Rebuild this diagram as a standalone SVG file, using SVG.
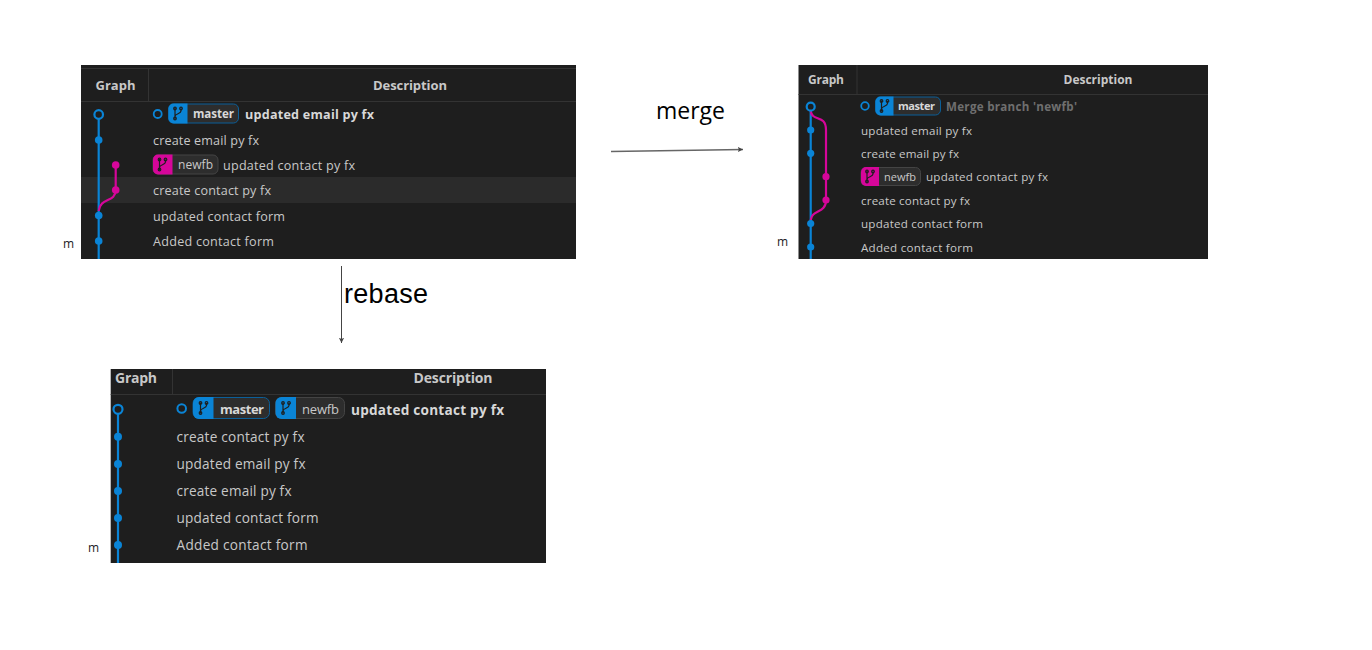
<svg xmlns="http://www.w3.org/2000/svg" width="1372" height="650" viewBox="0 0 1372 650">
<style>
text{font-family:"Open Sans","Noto Sans","Liberation Sans",sans-serif}
.panel{fill:#1e1e1e}
.rule{stroke:#333;stroke-width:1;fill:none}
.hd{fill:#c8c8c8;font-weight:700}
.t{fill:#c8c8c8}
.b{fill:#d8d8d8;font-weight:700}
.dim{fill:#6f6f6f;font-weight:700}
.blue{stroke:#0a84d6;fill:none;stroke-width:2.2}
.pink{stroke:#d6069a;fill:none;stroke-width:2.2}
.fb{fill:#0a84d6}
.fp{fill:#d6069a}
.ring{fill:#1e1e1e;stroke:#0a84d6;stroke-width:2.2}
.pill{fill:#2d2d2d;stroke:#444;stroke-width:1}
.pillb{fill:#2d2d2d;stroke:#0b5f99;stroke-width:1}
.ic{stroke:#1e1e1e;stroke-width:1.2;fill:none}
.m{fill:#222;font-size:12px}
.lab{fill:#000}
.arr{stroke:#444;stroke-width:1;fill:none}
.arr2{stroke:#666;stroke-width:1.3;fill:none}
</style>
<defs>
<marker id="ah" viewBox="0 0 8 8" refX="7" refY="4" markerWidth="6" markerHeight="6" orient="auto" markerUnits="userSpaceOnUse"><path d="M0 0.5L7 4L0 7.5L1.5 4Z" fill="#444"/></marker>
<g id="bi"><path class="ic" d="M-3 -5.500V5.500M3 -5V-2.500C3 0.500 -3 0 -3 3"/><circle cx="-3" cy="-5" r="1.300" class="ic"/><circle cx="3" cy="-5" r="1.300" class="ic"/><circle cx="-3" cy="5" r="1.300" class="ic"/></g>
</defs>

<g id="panel-before">
<rect class="panel" x="81" y="65" width="495" height="194"/>
<rect x="81" y="177" width="495" height="26" fill="#2b2b2b"/>
<path class="rule" d="M81 68.500H576M81 101.500H576M148.500 68V101"/>
<text class="hd" x="115.500" y="90" font-size="13" text-anchor="middle" textLength="40">Graph</text>
<text class="hd" x="410" y="90" font-size="13" text-anchor="middle" textLength="74">Description</text>
<path class="blue" d="M98.700 118V259"/>
<path class="pink" d="M115.700 165V190C115.700 203 100 197 98.700 211"/>
<circle class="ring" cx="98.700" cy="114.500" r="4.300"/>
<circle class="fb" cx="98.700" cy="140" r="3.800"/>
<circle class="fp" cx="115.700" cy="165" r="3.800"/>
<circle class="fp" cx="115.700" cy="190" r="3.800"/>
<circle class="fb" cx="98.700" cy="215.500" r="3.800"/>
<circle class="fb" cx="98.700" cy="241" r="3.800"/>
<circle cx="157.700" cy="114" r="4" fill="none" stroke="#0a84d6" stroke-width="1.800"/>
<rect class="pillb" x="168.500" y="104" width="70" height="19" rx="5"/>
<path class="fb" d="M173.500 103.500H187.500V123.500H173.500A5 5 0 0 1 168.500 118.500V108.500A5 5 0 0 1 173.500 103.500Z"/>
<use href="#bi" x="178" y="113.500"/>
<text class="b" x="193" y="118" font-size="11.600" textLength="41">master</text>
<text class="b" x="245" y="119" font-size="12.600" textLength="129">updated email py fx</text>
<text class="t" x="153" y="144.500" font-size="12.600" textLength="106">create email py fx</text>
<rect class="pill" x="153" y="155" width="65" height="19" rx="5"/>
<path class="fp" d="M158 154.500H172.500V174.500H158A5 5 0 0 1 153 169.500V159.500A5 5 0 0 1 158 154.500Z"/>
<use href="#bi" x="162.500" y="164.500"/>
<text class="t" x="178" y="169" font-size="12" textLength="35">newfb</text>
<text class="t" x="223" y="170" font-size="12.600" textLength="132">updated contact py fx</text>
<text class="t" x="153" y="195" font-size="12.600" textLength="118">create contact py fx</text>
<text class="t" x="153" y="220.500" font-size="12.600" textLength="132">updated contact form</text>
<text class="t" x="153" y="245.500" font-size="12.600" textLength="121">Added contact form</text>
</g>
<text id="m-before" class="m" x="63" y="248">m</text>

<g id="panel-merge">
<rect class="panel" x="798.500" y="65" width="409.500" height="194"/>
<path class="rule" d="M798.500 94.500H1208M857 65V94"/>
<text class="hd" x="826" y="84" font-size="12" text-anchor="middle" textLength="36">Graph</text>
<text class="hd" x="1098" y="84" font-size="12" text-anchor="middle" textLength="69">Description</text>
<path class="blue" d="M810.700 110V259"/>
<path class="pink" d="M810.700 111C812 122 826 114 826 130V200C826 214 812 209 810.700 220"/>
<circle class="ring" cx="810.700" cy="106.700" r="4"/>
<circle class="fb" cx="810.700" cy="130" r="3.600"/>
<circle class="fb" cx="810.700" cy="153.300" r="3.600"/>
<circle class="fp" cx="826" cy="176.700" r="3.600"/>
<circle class="fp" cx="826" cy="200" r="3.600"/>
<circle class="fb" cx="810.700" cy="223.500" r="3.600"/>
<circle class="fb" cx="810.700" cy="247" r="3.600"/>
<circle cx="865" cy="106" r="3.800" fill="none" stroke="#0a84d6" stroke-width="1.800"/>
<rect class="pillb" x="875.500" y="97" width="65" height="18" rx="5"/>
<path class="fb" d="M880.500 96.500H893.500V115.500H880.500A5 5 0 0 1 875.500 110.500V101.500A5 5 0 0 1 880.500 96.500Z"/>
<use href="#bi" x="884.500" y="106"/>
<text class="b" x="898" y="110" font-size="11" textLength="37">master</text>
<text class="dim" x="946" y="111" font-size="11.600" textLength="131">Merge branch 'newfb'</text>
<text class="t" x="861" y="134.500" font-size="11.600" textLength="111">updated email py fx</text>
<text class="t" x="861" y="158" font-size="11.600" textLength="98">create email py fx</text>
<rect class="pill" x="861" y="167.500" width="59.500" height="18" rx="5"/>
<path class="fp" d="M866 167H879V186H866A5 5 0 0 1 861 181V172A5 5 0 0 1 866 167Z"/>
<use href="#bi" x="870" y="176.500"/>
<text class="t" x="884" y="181" font-size="11" textLength="32">newfb</text>
<text class="t" x="926" y="181" font-size="11.600" textLength="122">updated contact py fx</text>
<text class="t" x="861" y="205" font-size="11.600" textLength="109">create contact py fx</text>
<text class="t" x="861" y="228" font-size="11.600" textLength="122">updated contact form</text>
<text class="t" x="861" y="252" font-size="11.600" textLength="112">Added contact form</text>
</g>
<text id="m-merge" class="m" x="777" y="246">m</text>

<g id="panel-rebase">
<rect class="panel" x="110.700" y="369" width="435.300" height="194"/>
<path class="rule" d="M110.700 394.500H546M172.500 369V394"/>
<text class="hd" x="136" y="383" font-size="14" text-anchor="middle" textLength="42">Graph</text>
<text class="hd" x="453" y="383" font-size="14" text-anchor="middle" textLength="79">Description</text>
<path class="blue" d="M118 414V563"/>
<circle class="ring" cx="118" cy="409.300" r="4.500"/>
<circle class="fb" cx="118" cy="436.700" r="4"/>
<circle class="fb" cx="118" cy="464" r="4"/>
<circle class="fb" cx="118" cy="491" r="4"/>
<circle class="fb" cx="118" cy="518" r="4"/>
<circle class="fb" cx="118" cy="545" r="4"/>
<circle cx="181.700" cy="408.500" r="4.300" fill="none" stroke="#0a84d6" stroke-width="2"/>
<rect class="pillb" x="193" y="397.500" width="76.500" height="21" rx="6"/>
<path class="fb" d="M199 397H213.500V419H199A6 6 0 0 1 193 413V403A6 6 0 0 1 199 397Z"/>
<use href="#bi" x="203.500" y="408"/>
<text class="b" x="220" y="413.500" font-size="13" textLength="44">master</text>
<rect class="pill" x="275.500" y="397.500" width="69" height="21" rx="6"/>
<path class="fb" d="M281.500 397H296V419H281.500A6 6 0 0 1 275.500 413V403A6 6 0 0 1 281.500 397Z"/>
<use href="#bi" x="286" y="408"/>
<text class="t" x="302" y="413.500" font-size="13" textLength="37">newfb</text>
<text class="b" x="351" y="414.500" font-size="13.600" textLength="153">updated contact py fx</text>
<text class="t" x="176.500" y="441.500" font-size="13.600" textLength="128">create contact py fx</text>
<text class="t" x="176.500" y="469" font-size="13.600" textLength="129">updated email py fx</text>
<text class="t" x="176.500" y="496" font-size="13.600" textLength="115">create email py fx</text>
<text class="t" x="176.500" y="523" font-size="13.600" textLength="142">updated contact form</text>
<text class="t" x="176.500" y="550" font-size="13.600" textLength="131">Added contact form</text>
</g>
<text id="m-rebase" class="m" x="88" y="552">m</text>

<g id="connectors">
<path class="arr2" d="M611 151.500L743 149.500" marker-end="url(#ah)"/>
<path class="arr" d="M341.500 266V343" marker-end="url(#ah)"/>
</g>
<text id="label-merge" class="lab" x="656" y="119" font-size="23" textLength="69">merge</text>
<text id="label-rebase" class="lab" x="344" y="303" font-size="27" textLength="84" style="font-family:'Liberation Sans',sans-serif">rebase</text>
</svg>
